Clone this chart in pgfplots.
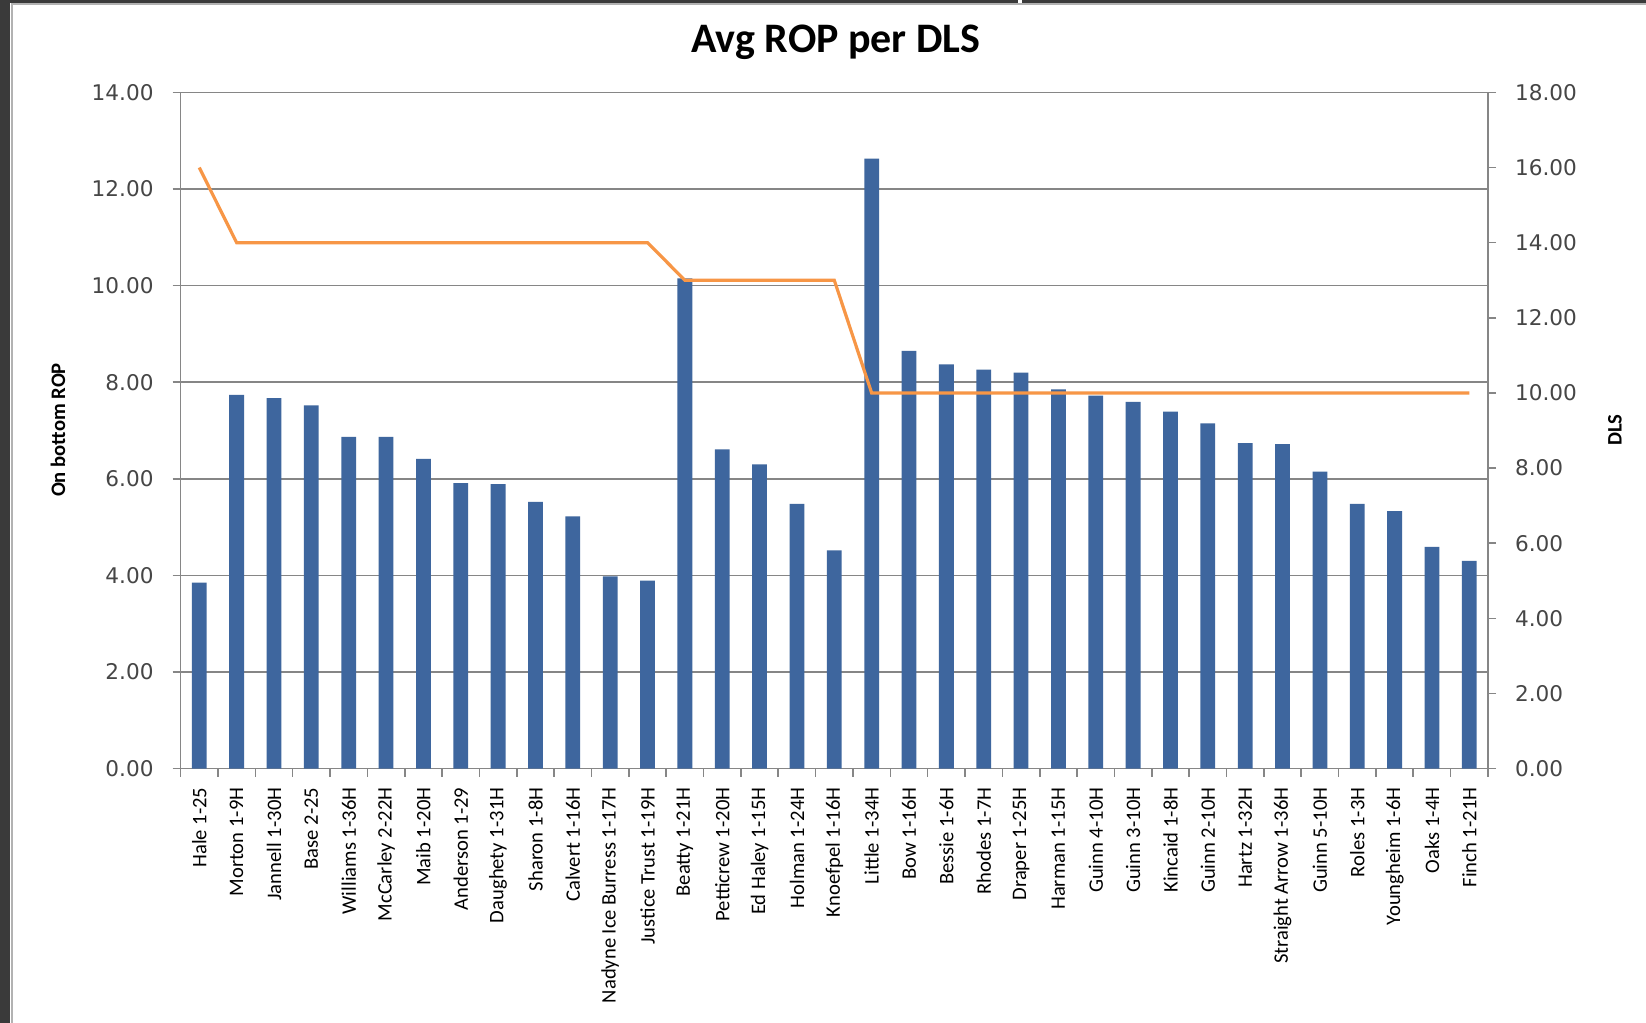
\documentclass[border=0pt]{standalone}
\usepackage{pgfplots}
\pgfplotsset{compat=1.18}
\usepackage{fontspec}
\setmainfont{Carlito}
\newfontfamily\tickfont{DejaVu Sans}
\definecolor{barblue}{RGB}{62,102,158}
\definecolor{lineorange}{RGB}{247,150,70}
\definecolor{gridgray}{RGB}{134,134,134}
\definecolor{ticktext}{RGB}{70,70,70}
\definecolor{frame}{RGB}{58,58,58}
\begin{document}
\begin{tikzpicture}
\path[use as bounding box] (0,0) rectangle (823pt,511.5pt);
\fill[white] (0,0) rectangle (823pt,511.5pt);
\fill[frame] (0,0) rectangle (5pt,511.5pt);
\fill[frame] (0,510pt) rectangle (823pt,511.5pt);
\fill[white] (509pt,510pt) rectangle (511pt,511.5pt);
\draw[gray!60, line width=0.8pt] (6pt,0) -- (6pt,509.5pt) -- (823pt,509.5pt);
\begin{axis}[
  at={(90.3pt,127.2pt)}, anchor=south west,
  scale only axis, width=653.7pt, height=338.1pt,
  xmin=-0.5, xmax=34.5, ymin=0, ymax=14,
  axis lines*=left,
  axis line style={draw=gridgray, line width=0.8pt},
  xtick={-0.5,0.5,...,34.5},
  x tick label as interval,
  xticklabels={Hale 1-25, Morton 1-9H, Jannell 1-30H, Base 2-25, Williams 1-36H, McCarley 2-22H, Maib 1-20H, Anderson 1-29, Daughety 1-31H, Sharon 1-8H, Calvert 1-16H, Nadyne Ice Burress 1-17H, Justice Trust 1-19H, Beatty 1-21H, Petticrew 1-20H, Ed Haley 1-15H, Holman 1-24H, Knoefpel 1-16H, Little 1-34H, Bow 1-16H, Bessie 1-6H, Rhodes 1-7H, Draper 1-25H, Harman 1-15H, Guinn 4-10H, Guinn 3-10H, Kincaid 1-8H, Guinn 2-10H, Hartz 1-32H, Straight Arrow 1-36H, Guinn 5-10H, Roles 1-3H, Youngheim 1-6H, Oaks 1-4H, Finch 1-21H},
  xticklabel style={rotate=90, anchor=east, font=\fontsize{10.3}{12}\selectfont, yshift=0pt, xshift=-2pt},
  ytick={0,2,...,14},
  ymajorgrids,
  grid style={draw=gridgray, line width=0.8pt},
  tick align=outside,
  major tick length=4pt,
  tick style={draw=gridgray, line width=0.8pt},
  /pgf/number format/assume math mode=true,
  yticklabel style={font=\tickfont\fontsize{10.8}{12}\selectfont, text=ticktext, /pgf/number format/fixed, /pgf/number format/zerofill, /pgf/number format/precision=2, xshift=-6pt},
]
\addplot[ybar, bar width=7.4pt, fill=barblue, draw=none] coordinates {
(0,3.85) (1,7.74) (2,7.67) (3,7.52) (4,6.87) (5,6.87) (6,6.41) (7,5.91) (8,5.89) (9,5.52)
(10,5.22) (11,3.98) (12,3.89) (13,10.15) (14,6.61) (15,6.30) (16,5.48) (17,4.52) (18,12.63) (19,8.65)
(20,8.37) (21,8.26) (22,8.20) (23,7.85) (24,7.72) (25,7.59) (26,7.39) (27,7.15) (28,6.74) (29,6.72)
(30,6.15) (31,5.48) (32,5.33) (33,4.59) (34,4.30)
};
\end{axis}
\begin{axis}[
  at={(90.3pt,127.2pt)}, anchor=south west,
  scale only axis, width=653.7pt, height=338.1pt,
  xmin=-0.5, xmax=34.5, ymin=0, ymax=18,
  axis y line*=right, axis x line=none,
  axis line style={draw=gridgray, line width=0.8pt},
  ytick={0,2,...,18},
  tick align=outside,
  major tick length=4pt,
  tick style={draw=gridgray, line width=0.8pt},
  /pgf/number format/assume math mode=true,
  yticklabel style={font=\tickfont\fontsize{10.8}{12}\selectfont, text=ticktext, /pgf/number format/fixed, /pgf/number format/zerofill, /pgf/number format/precision=2, xshift=6pt},
]
\addplot[draw=lineorange, line width=1.6pt, mark=none] coordinates {
(0,16) (1,14) (2,14) (3,14) (4,14) (5,14) (6,14) (7,14) (8,14) (9,14)
(10,14) (11,14) (12,14) (13,13) (14,13) (15,13) (16,13) (17,13) (18,10) (19,10)
(20,10) (21,10) (22,10) (23,10) (24,10) (25,10) (26,10) (27,10) (28,10) (29,10)
(30,10) (31,10) (32,10) (33,10) (34,10)
};
\end{axis}
\node[font=\bfseries\fontsize{21}{24}\selectfont] at (418pt,490.5pt) {Avg ROP per DLS};
\node[rotate=90, font=\bfseries\fontsize{10.3}{12}\selectfont] at (29pt,296.5pt) {On bottom ROP};
\node[rotate=90, font=\bfseries\fontsize{10.3}{12}\selectfont] at (807.5pt,296.5pt) {DLS};
\end{tikzpicture}
\end{document}
